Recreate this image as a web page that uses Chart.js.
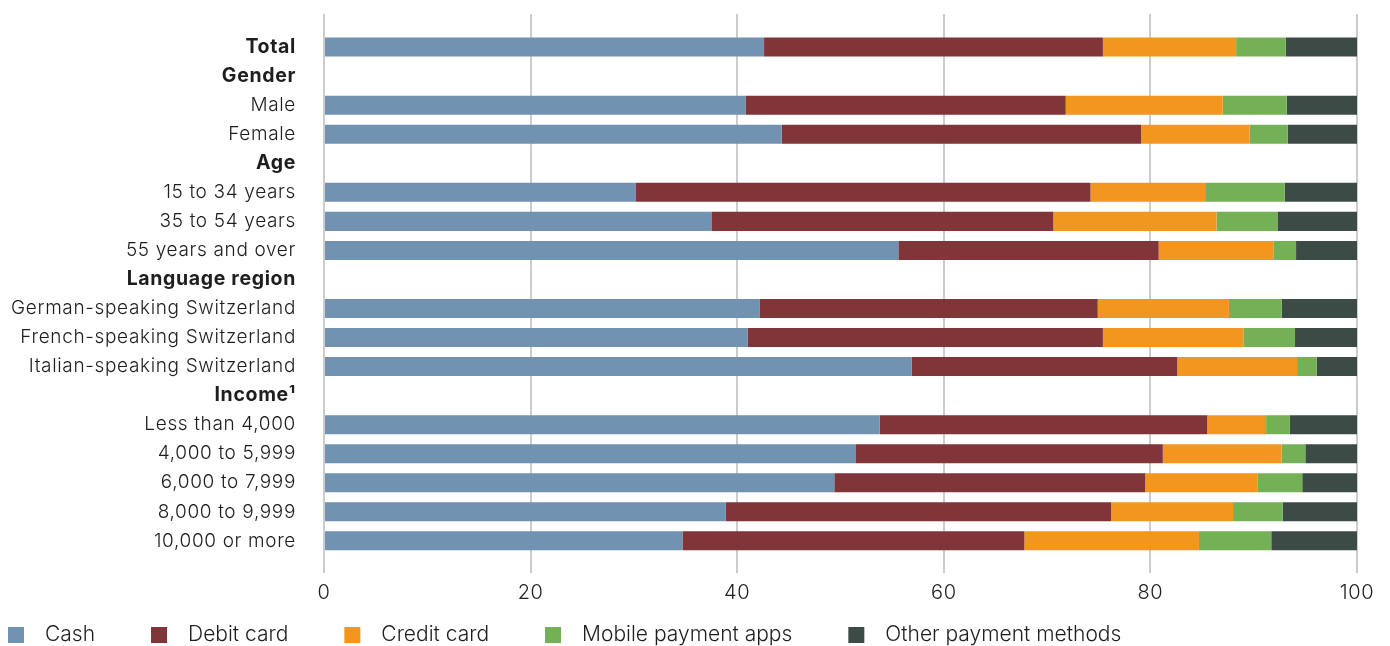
<!DOCTYPE html>
<html>
<head>
<meta charset="utf-8">
<script src="https://cdn.jsdelivr.net/npm/chart.js@4/dist/chart.umd.min.js"></script>
<style>
  html, body { margin: 0; padding: 0; background: #ffffff; }
  #wrap { width: 1390px; height: 646px; position: relative; }
</style>
</head>
<body>
<div id="wrap"><canvas id="chart"></canvas></div>
<script>
// Row labels, top to bottom (group headings have no bars)
const categories = [
  'Total', 'Gender', 'Male', 'Female', 'Age', '15 to 34 years', '35 to 54 years',
  '55 years and over', 'Language region', 'German-speaking Switzerland',
  'French-speaking Switzerland', 'Italian-speaking Switzerland', 'Income\u00B9',
  'Less than 4,000', '4,000 to 5,999', '6,000 to 7,999', '8,000 to 9,999', '10,000 or more'
];
const headings = ['Total', 'Gender', 'Age', 'Language region', 'Income\u00B9'];

// Shares of payments in percent (null = heading row)
const cash     = [42.6, null, 40.8, 44.3, null, 30.2, 37.5, 55.6, null, 42.2, 41.0, 56.9, null, 53.8, 51.5, 49.4, 38.9, 34.7];
const debit    = [32.8, null, 31.0, 34.8, null, 44.0, 33.1, 25.2, null, 32.7, 34.4, 25.7, null, 31.7, 29.7, 30.1, 37.3, 33.1];
const credit   = [12.9, null, 15.2, 10.5, null, 11.1, 15.8, 11.1, null, 12.7, 13.6, 11.6, null,  5.7, 11.5, 10.9, 11.8, 16.9];
const mobile   = [ 4.8, null,  6.2,  3.7, null,  7.7,  5.9,  2.2, null,  5.1,  5.0,  1.9, null,  2.3,  2.3,  4.3,  4.8,  7.0];
const other    = [ 6.9, null,  6.8,  6.7, null,  7.0,  7.7,  5.9, null,  7.3,  6.0,  3.9, null,  6.5,  5.0,  5.3,  7.2,  8.3];
const xTicks   = [0, 20, 40, 60, 80, 100];

const FONT = 'Inter, Roboto, "Liberation Sans", Arial, sans-serif';
const TEXT = '#1e1e1e';

function points(values) {
  return values
    .map((v, i) => (v === null ? null : { x: v, y: i }))
    .filter(p => p !== null);
}

const series = [
  { label: 'Cash', values: cash, color: '#7192B0' },
  { label: 'Debit card', values: debit, color: '#803538' },
  { label: 'Credit card', values: credit, color: '#F3961F' },
  { label: 'Mobile payment apps', values: mobile, color: '#74B055' },
  { label: 'Other payment methods', values: other, color: '#3C4B45' }
];

// Slightly looser tracking for the row labels
const tracking = {
  id: 'tracking',
  beforeDraw(chart) { chart.ctx.letterSpacing = '0.65px'; },
  afterDraw(chart) { chart.ctx.letterSpacing = '0px'; }
};

// Legend row along the bottom edge
const bottomLegend = {
  id: 'bottomLegend',
  afterDraw(chart) {
    const ctx = chart.ctx;
    ctx.save();
    ctx.letterSpacing = '0px';
    ctx.font = '300 21px ' + FONT;
    ctx.textBaseline = 'middle';
    ctx.textAlign = 'left';
    let x = 8;
    const yMid = 635;
    chart.data.datasets.forEach(ds => {
      ctx.fillStyle = ds.backgroundColor;
      ctx.fillRect(x, yMid - 8, 16, 16);
      const tx = x + 37;
      ctx.fillStyle = TEXT;
      ctx.fillText(ds.label, tx, yMid);
      x = tx + ctx.measureText(ds.label).width + 56;
    });
    ctx.restore();
  }
};

new Chart(document.getElementById('chart'), {
  type: 'bar',
  data: {
    datasets: series.map(s => ({
      label: s.label,
      data: points(s.values),
      backgroundColor: s.color,
      borderWidth: 0,
      barPercentage: 0.655,
      categoryPercentage: 1.0
    }))
  },
  options: {
    indexAxis: 'y',
    responsive: true,
    maintainAspectRatio: false,
    animation: false,
    layout: { padding: { top: 14, right: 33, bottom: 32.4, left: 0 } },
    plugins: {
      legend: { display: false },
      tooltip: { enabled: false }
    },
    scales: {
      x: {
        type: 'linear',
        stacked: true,
        min: 0,
        max: 100,
        afterBuildTicks: (scale) => { scale.ticks = xTicks.map(v => ({ value: v })); },
        grid: { color: '#cccccc', lineWidth: 2, drawTicks: false },
        border: { display: false },
        ticks: {
          padding: 8.4,
          color: TEXT,
          font: { family: FONT, size: 20, weight: 300 }
        }
      },
      y: {
        type: 'linear',
        stacked: true,
        reverse: true,
        bounds: 'data',
        offset: false,
        min: -1.14,
        max: 18.1,
        afterBuildTicks: (scale) => { scale.ticks = categories.map((c, i) => ({ value: i })); },
        afterFit: (scale) => {
          scale.width = 324;
          scale.paddingTop = 0;
          scale.paddingBottom = 0;
        },
        grid: { display: false, drawTicks: false },
        border: { display: false },
        ticks: {
          autoSkip: false,
          padding: 28,
          color: TEXT,
          callback: (v) => (categories[v] !== undefined ? categories[v] : ''),
          font: (c) => {
            const name = c.tick ? categories[c.tick.value] : undefined;
            const bold = headings.includes(name);
            return { family: FONT, size: bold ? 19.5 : 19, weight: bold ? 'bold' : 300 };
          }
        }
      }
    }
  },
  plugins: [tracking, bottomLegend]
});
</script>
</body>
</html>
